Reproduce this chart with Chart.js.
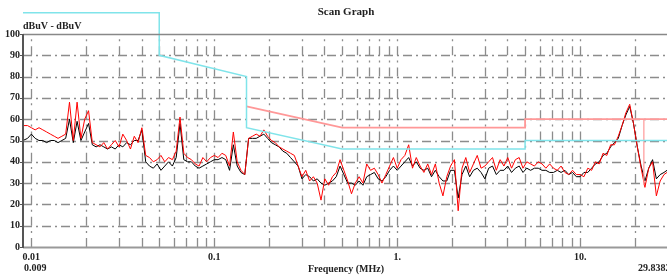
<!DOCTYPE html>
<html>
<head>
<meta charset="utf-8">
<script src="https://cdn.jsdelivr.net/npm/chart.js@4.4.1/dist/chart.umd.min.js"></script>
<style>
  html, body { margin: 0; padding: 0; background: #fff; }
  canvas { display: block; }
</style>
</head>
<body>
<canvas id="scan" width="667" height="280"></canvas>
<script>
// sample points inside one decade (mantissas), reused for each decade of the scan
const decadeSteps = [1.000, 1.049, 1.101, 1.155, 1.212, 1.271, 1.334, 1.399, 1.468, 1.540, 1.616, 1.695,
    1.778, 1.866, 1.957, 2.054, 2.154, 2.260, 2.371, 2.488, 2.610, 2.738, 2.873, 3.014,
    3.162, 3.318, 3.481, 3.652, 3.831, 4.020, 4.217, 4.424, 4.642, 4.870, 5.109, 5.360,
    5.623, 5.900, 6.190, 6.494, 6.813, 7.147, 7.499, 7.867, 8.254, 8.660, 9.085, 9.532];

const freqMHz = [0.009, 0.00953]
    .concat(decadeSteps.map(m => m * 0.01))
    .concat(decadeSteps.map(m => m * 0.1))
    .concat(decadeSteps.map(m => m * 1))
    .concat(decadeSteps.slice(0, 23).map(m => m * 10))
    .concat([29.8382]);

// black trace (dBuV)
const blackLevels = [50, 51,
    53, 51, 50, 50, 49, 50, 50, 49, 50, 51,
    60, 49, 59, 50, 54, 58, 48, 47, 48, 47,
    46, 47, 46, 48, 47, 49, 48, 50, 50, 55,
    40, 38, 37, 39, 36, 38, 40, 38, 42, 58,
    41, 40, 40, 38, 37, 38, 39, 40,
    41, 41, 42, 41, 36, 48, 38, 35, 34, 51,
    51, 51, 52, 53, 51, 49, 48, 47, 45, 44,
    42, 40, 38, 32, 34, 33, 31, 32, 30, 29,
    30, 31, 33, 38, 34, 30, 30, 29, 31, 29,
    33, 34, 35, 32, 31, 33, 36, 38,
    36, 38, 40, 42, 38, 40, 37, 36, 37, 33,
    36, 33, 31, 31, 36, 36, 23, 34, 38, 33,
    36, 37, 35, 32, 37, 38, 34, 36, 36, 38,
    35, 37, 38, 35, 37, 36, 37, 37, 36, 36,
    35, 35, 36, 35, 36, 34, 35, 33,
    33, 35, 35, 37, 39, 40, 43, 44, 47, 49,
    51, 57, 62, 66, 58, 47, 38, 31, 37, 41,
    32, 34, 35,
    36];

// red trace (dBuV)
const redLevels = [57, 57,
    56, 55, 56, 55, 54, 53, 52, 51, 52, 53,
    68, 50, 68, 51, 60, 64, 49, 48, 47, 49,
    46, 48, 50, 47, 53, 50, 46, 52, 49, 56,
    43, 42, 40, 41, 43, 40, 42, 41, 45, 61,
    44, 42, 41, 39, 38, 42, 40, 42,
    43, 42, 44, 43, 38, 54, 40, 36, 34, 51,
    52, 53, 52, 55, 52, 50, 49, 47, 46, 45,
    44, 43, 38, 33, 36, 31, 33, 30, 22, 32,
    29, 33, 35, 41, 36, 31, 25, 30, 33, 30,
    39, 36, 37, 34, 30, 34, 38, 42,
    37, 41, 43, 48, 37, 42, 38, 35, 39, 34,
    39, 30, 24, 33, 38, 41, 17, 37, 42, 35,
    39, 43, 37, 38, 40, 42, 36, 41, 38, 42,
    37, 41, 42, 37, 40, 39, 38, 40, 39, 37,
    39, 37, 36, 38, 35, 34, 36, 34,
    34, 33, 37, 36, 40, 39, 44, 43, 48, 48,
    52, 57, 63, 67, 58, 47, 37, 28, 37, 40,
    24, 31, 34,
    35];

// limit lines: [MHz, dBuV]
const cyanLimit = [[0.009, 110], [0.05, 110], [0.05, 90], [0.15, 80], [0.15, 56],
    [0.5, 46], [5, 46], [5, 50], [29.8382, 50]];
const redLimit = [[0.15, 66], [0.5, 56], [5, 56], [5, 60], [29.8382, 60]];
const redDrop = [[22.3, 60], [22.3, 29]];

const yLevels = [0, 10, 20, 30, 40, 50, 60, 70, 80, 90, 100];
const gridFreqs = [0.01, 0.02, 0.03, 0.04, 0.05, 0.06, 0.07, 0.08, 0.09,
    0.1, 0.2, 0.3, 0.4, 0.5, 0.6, 0.7, 0.8, 0.9,
    1, 2, 3, 4, 5, 6, 7, 8, 9, 10, 20];
const labelFreqs = [0.01, 0.1, 1, 10];
const labelText = ['0.01', '0.1', '1.', '10.'];

const serif = "'Liberation Serif', 'DejaVu Serif', serif";

function toPoints(xs, ys) {
    return xs.map((f, i) => ({ x: f, y: ys[i] }));
}
function pairPoints(list) {
    return list.map(p => ({ x: p[0], y: p[1] }));
}

const scanFrame = {
    id: 'scanFrame',
    beforeDatasetsDraw(chart) {
        const { ctx, chartArea: a, scales: { x, y } } = chart;
        ctx.save();
        ctx.strokeStyle = '#8c8c8c';
        ctx.lineWidth = 1.3;
        ctx.setLineDash([9, 4, 2, 4]);
        yLevels.slice(1, -1).forEach(v => {
            const py = Math.round(y.getPixelForValue(v)) + 0.5;
            ctx.beginPath();
            ctx.moveTo(a.left, py);
            ctx.lineTo(a.right, py);
            ctx.stroke();
        });
        ctx.setLineDash([9, 5, 2, 5.3]);
        gridFreqs.forEach(f => {
            const px = Math.round(x.getPixelForValue(f)) + 0.5;
            ctx.beginPath();
            ctx.moveTo(px, a.bottom);
            ctx.lineTo(px, a.top);
            ctx.stroke();
        });
        ctx.restore();
    },
    afterDatasetsDraw(chart) {
        const { ctx, chartArea: a, scales: { y } } = chart;
        ctx.save();
        ctx.setLineDash([]);
        ctx.strokeStyle = '#888';
        ctx.lineWidth = 1.5;
        ctx.beginPath();
        ctx.moveTo(a.left, a.top + 0.5);
        ctx.lineTo(a.right, a.top + 0.5);
        ctx.stroke();
        ctx.strokeStyle = '#999';
        ctx.lineWidth = 2;
        ctx.beginPath();
        ctx.moveTo(a.left, a.bottom + 0.5);
        ctx.lineTo(a.right, a.bottom + 0.5);
        ctx.stroke();
        ctx.strokeStyle = '#555';
        ctx.beginPath();
        ctx.moveTo(a.left, a.top);
        ctx.lineTo(a.left, a.bottom + 1);
        ctx.stroke();
        // small ticks on the level axis
        ctx.lineWidth = 1;
        yLevels.forEach(v => {
            const py = Math.round(y.getPixelForValue(v)) + 0.5;
            ctx.beginPath();
            ctx.moveTo(a.left - 3, py);
            ctx.lineTo(a.left, py);
            ctx.stroke();
        });
        ctx.restore();
    },
    afterDraw(chart) {
        const { ctx, chartArea: a } = chart;
        ctx.save();
        ctx.fillStyle = '#222';
        ctx.textBaseline = 'middle';
        ctx.font = 'bold 11px ' + serif;
        ctx.textAlign = 'center';
        ctx.fillText('Scan Graph', 346, 12);
        ctx.font = 'bold 10px ' + serif;
        ctx.fillText('Frequency (MHz)', 346, 269);
        ctx.textAlign = 'left';
        ctx.fillText('dBuV - dBuV', a.left, 26);
        ctx.fillText('0.009', a.left + 1, 268);
        ctx.fillText('29.8382', 638, 268);
        ctx.restore();
    }
};

const scanChart = new Chart(document.getElementById('scan'), {
    type: 'scatter',
    data: {
        datasets: [
            {
                label: 'Black',
                data: toPoints(freqMHz, blackLevels),
                showLine: true,
                borderColor: '#000',
                borderWidth: 1,
                pointRadius: 0,
                order: 3
            },
            {
                label: 'Red',
                data: toPoints(freqMHz, redLevels),
                showLine: true,
                borderColor: '#ff0000',
                borderWidth: 1,
                pointRadius: 0,
                order: 2
            },
            {
                label: 'Limit A',
                data: pairPoints(cyanLimit),
                showLine: true,
                borderColor: '#80e4ea',
                borderWidth: 1.5,
                pointRadius: 0,
                clip: false,
                order: 1
            },
            {
                label: 'Limit B',
                data: pairPoints(redLimit),
                showLine: true,
                borderColor: '#ff9898',
                borderWidth: 1.8,
                pointRadius: 0,
                order: 1
            },
            {
                label: 'Limit B drop',
                data: pairPoints(redDrop),
                showLine: true,
                borderColor: '#ff9898',
                borderWidth: 1.2,
                pointRadius: 0,
                order: 1
            }
        ]
    },
    options: {
        responsive: false,
        animation: false,
        devicePixelRatio: 1,
        layout: {
            padding: { top: 34, left: 0, right: 0, bottom: 0 }
        },
        plugins: {
            legend: { display: false },
            tooltip: { enabled: false }
        },
        scales: {
            x: {
                type: 'logarithmic',
                min: 0.009,
                max: 29.8382,
                grid: { display: false, drawTicks: false },
                border: { display: false },
                afterBuildTicks: scale => {
                    scale.ticks = labelFreqs.map(v => ({ value: v }));
                },
                afterFit: scale => {
                    scale.height = 33;
                },
                ticks: {
                    autoSkip: false,
                    maxRotation: 0,
                    padding: 4,
                    color: '#222',
                    font: { family: serif, size: 10, weight: 'bold' },
                    callback: (value) => {
                        const i = labelFreqs.indexOf(value);
                        return i >= 0 ? labelText[i] : '';
                    }
                }
            },
            y: {
                min: 0,
                max: 100,
                grid: { display: false, drawTicks: false },
                border: { display: false },
                afterFit: scale => {
                    scale.width = 23;
                },
                ticks: {
                    stepSize: 10,
                    padding: 3,
                    color: '#222',
                    font: { family: serif, size: 10, weight: 'bold' }
                }
            }
        }
    },
    plugins: [scanFrame]
});
</script>
</body>
</html>
